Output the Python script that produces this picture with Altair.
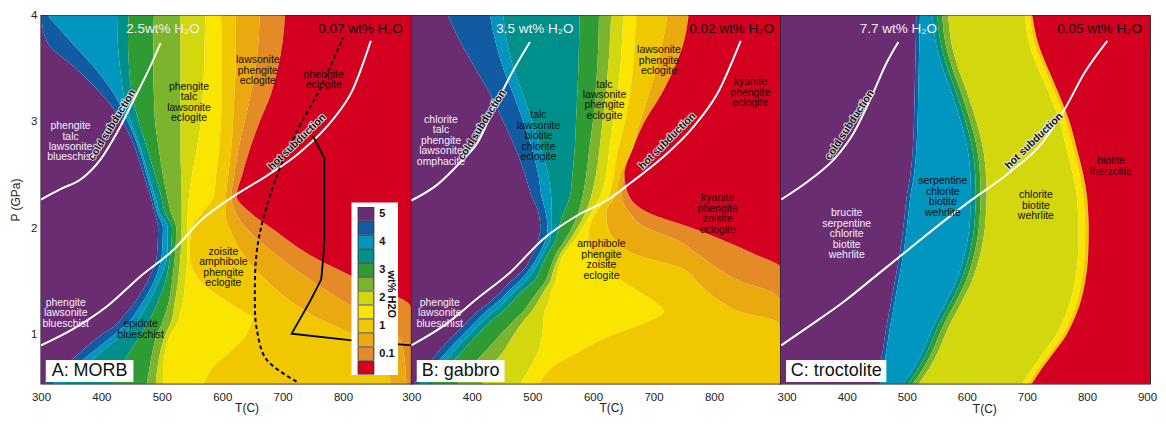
import altair as alt
import pandas as pd

FONT = "Liberation Sans"
P_DOMAIN = [0.54, 4.0]
Y_TICKS = [1, 2, 3, 4]

# water-content classes (wt% H2O), from wettest to driest
BANDS = ["5+", "4.5-5", "4-4.5", "3.5-4", "3-3.5", "2.5-3", "2-2.5",
         "1.5-2", "1-1.5", "0.5-1", "0.1-0.5", "<0.1"]
BAND_COLORS = ["#6a2d72", "#115ba3", "#0096c0", "#00908b", "#2f9b35", "#7db42d",
               "#d2d70e", "#fae501", "#f0c700", "#e9a90f", "#e48a27", "#d3001f"]
LEGEND_TEXT = {"5+": "5", "4-4.5": "4", "3-3.5": "3", "2-2.5": "2", "1-1.5": "1", "0.1-0.5": "0.1"}
LEGEND_TITLE = "wt% H2O"
TONES = {"light": "#f4eff7", "dark": "#111111", "onred": "#2b0008"}

# ---------------- Panel A: MORB ----------------
A_T = [300, 913]
A_X_TICKS = [300, 400, 500, 600, 700, 800]
A_P = [0.54, 0.7, 0.85, 1.0, 1.1, 1.15, 1.25, 1.5, 1.75, 2.0, 2.15, 2.3, 2.5, 2.75, 3.0, 3.25, 3.5, 3.75, 4.0]
A_EDGES = [
    [305, 338, 368, 400, 426, 433, 448, 476, 492, 494, 488, 481, 470, 456, 435, 402, 358, 310, 300],
    [319, 355, 388, 421, 442, 450, 462, 487, 500, 502, 492, 485, 475, 462, 444, 422, 390, 350, 311],
    [338, 371, 402, 435, 454, 462, 473, 495, 509, 510, 496, 489, 478, 465, 449, 437, 431, 427, 426],
    [418, 432, 448, 465, 476, 481, 489, 506, 514, 517, 505, 499, 489, 476, 462, 451, 446, 444, 445],
    [475, 480, 485, 492, 500, 503, 509, 517, 522, 524, 515, 509, 502, 495, 489, 487, 486, 486, 487],
    [490, 493, 498, 506, 514, 517, 520, 527, 531, 533, 533, 533, 532, 531, 531, 531, 531, 531, 531],
    [503, 503, 506, 514, 525, 528, 533, 539, 542, 542, 543, 545, 550, 558, 565, 568, 570, 571, 572],
    [570, 585, 615, 640, 648, 651, 625, 565, 546, 550, 568, 586, 590, 595, 598, 599, 599, 599, 598],
    [880, 870, 850, 815, 780, 760, 730, 675, 635, 612, 605, 606, 610, 615, 618, 620, 622, 622, 622],
    [905, 903, 900, 890, 868, 850, 820, 750, 690, 640, 622, 615, 620, 627, 637, 647, 655, 660, 662],
    [913, 913, 913, 913, 913, 913, 913, 833, 745, 682, 646, 624, 633, 646, 662, 680, 692, 700, 704],
]
A_COLD_T = [300, 333, 366, 399, 426, 454, 481, 498]
A_COLD_P = [2.27, 2.37, 2.46, 2.65, 2.90, 3.21, 3.52, 3.74]
A_HOT_T = [300, 355, 410, 465, 520, 564, 624, 673, 728, 783, 816, 846]
A_HOT_P = [0.90, 1.06, 1.27, 1.55, 1.80, 2.07, 2.32, 2.49, 2.71, 3.02, 3.30, 3.76]
A_DASH_T = [723, 673, 657, 654, 657, 668, 695, 728, 761, 800]
A_DASH_P = [0.56, 0.77, 1.06, 1.37, 1.77, 2.09, 2.56, 2.96, 3.30, 3.79]
A_SOLID_T = [750, 769, 769, 764, 745, 715, 811, 913]
A_SOLID_P = [2.87, 2.66, 1.84, 1.52, 1.31, 1.01, 0.95, 0.90]
A_LABEL_TEXT = ["phengite\ntalc\nlawsonite\nblueschist", "phengite\ntalc\nlawsonite\neclogite",
                "lawsonite\nphengite\neclogite", "phengite\neclogite",
                "zoisite\namphibole\nphengite\neclogite", "phengite\nlawsonite\nblueschist",
                "epidote\nblueschist"]
A_LABEL_T = [349, 545, 659, 768, 602, 341, 465]
A_LABEL_P = [2.96, 3.33, 3.58, 3.44, 1.78, 1.30, 1.10]
A_LABEL_TONE = ["light", "dark", "dark", "onred", "dark", "light", "dark"]
A_WATER_TEXT = ["2.5wt% H₂O", "0.07 wt% H₂O"]
A_WATER_T = [502, 829]
A_SUBD_T = [418, 724]
A_SUBD_P = [2.97, 2.81]
A_SUBD_ANGLE = [301.6, 316]
# legend backdrop and its rotated title, in panel-A data units
A_LEGEND_BOX_T = [814, 891]
A_LEGEND_BOX_P = [0.621, 2.243]
A_LEGEND_TITLE_T = 880
A_LEGEND_TITLE_P = 1.38

# ---------------- Panel B: gabbro ----------------
B_T = [300, 910]
B_X_TICKS = [300, 400, 500, 600, 700, 800]
B_P = [0.54, 0.7, 0.85, 1.0, 1.12, 1.22, 1.3, 1.4, 1.5, 1.63, 1.75, 1.9, 2.0, 2.15, 2.3, 2.5, 2.75, 3.0, 3.25, 3.5, 3.75, 4.0]
B_EDGES = [
    [305, 325, 346, 371, 392, 410, 428, 447, 464, 488, 500, 510, 513, 510, 499, 488, 472, 452, 431, 406, 381, 360],
    [314, 337, 360, 385, 406, 424, 441, 459, 478, 497, 510, 522, 525, 522, 515, 510, 499, 485, 469, 452, 439, 430],
    [322, 348, 371, 396, 417, 437, 452, 469, 488, 505, 517, 529, 532, 532, 531, 526, 514, 500, 485, 469, 458, 452],
    [333, 360, 385, 409, 430, 451, 465, 481, 502, 514, 524, 539, 543, 552, 562, 566, 570, 572, 574, 576, 577, 578],
    [376, 398, 423, 447, 467, 485, 495, 508, 521, 530, 538, 555, 565, 576, 583, 589, 594, 600, 604, 607, 609, 610],
    [417, 431, 453, 469, 484, 499, 508, 518, 529, 536, 545, 563, 574, 588, 597, 605, 611, 616, 621, 625, 628, 630],
    [480, 497, 510, 516, 518, 520, 526, 531, 538, 543, 551, 571, 582, 598, 612, 622, 627, 634, 640, 645, 648, 650],
    [512, 534, 580, 632, 690, 717, 704, 678, 650, 627, 600, 592, 594, 605, 626, 634, 642, 653, 661, 666, 669, 671],
    [910, 910, 910, 910, 905, 840, 815, 790, 772, 745, 672, 635, 625, 622, 636, 645, 665, 678, 692, 705, 715, 723],
    [910, 910, 910, 910, 910, 910, 910, 895, 845, 805, 775, 735, 690, 660, 648, 652, 666, 685, 712, 734, 750, 758],
    [910, 910, 910, 910, 910, 910, 910, 910, 910, 910, 870, 810, 765, 690, 660, 652, 666, 685, 712, 734, 750, 758],
]
B_COLD_T = [300, 343, 381, 409, 436, 469, 496]
B_COLD_P = [2.26, 2.41, 2.62, 2.80, 3.12, 3.49, 3.75]
B_HOT_T = [300, 355, 409, 464, 518, 574, 628, 663, 712, 767, 806, 844]
B_HOT_P = [0.90, 1.09, 1.34, 1.59, 1.90, 2.12, 2.28, 2.43, 2.65, 2.96, 3.27, 3.76]
B_LABEL_TEXT = ["chlorite\ntalc\nphengite\nlawsonite\nomphacite",
                "talc\nlawsonite\nbiotite\nchlorite\neclogite",
                "talc\nlawsonite\nphengite\neclogite", "lawsonite\nphengite\neclogite",
                "kyanite\nphengite\neclogite", "kyanite\nphengite\nzoisite\neclogite",
                "amphibole\nphengite\nzoisite\neclogite", "phengite\nlawsonite\nblueschist"]
B_LABEL_T = [349, 510, 619, 709, 860, 806, 614, 347]
B_LABEL_P = [3.02, 3.06, 3.35, 3.67, 3.37, 2.28, 1.85, 1.30]
B_LABEL_TONE = ["light", "dark", "dark", "dark", "onred", "onred", "dark", "light"]
B_WATER_TEXT = ["3.5 wt% H₂O", "0.02 wt% H₂O"]
B_WATER_T = [504, 829]
B_SUBD_T = [417, 723]
B_SUBD_P = [2.97, 2.82]
B_SUBD_ANGLE = [302, 315]

# ---------------- Panel C: troctolite ----------------
C_T = [290, 905]
C_X_TICKS = [300, 400, 500, 600, 700, 800, 900]
C_P = [0.54, 0.7, 0.85, 1.0, 1.1, 1.25, 1.5, 1.75, 2.0, 2.15, 2.3, 2.5, 2.75, 3.0, 3.25, 3.5, 3.75, 4.0]
C_EDGES = [
    [450, 455, 460, 464, 467, 472, 480, 488, 494, 497, 500, 506, 510, 512, 513, 514, 515, 516],
    [456, 461, 466, 470, 473, 478, 486, 494, 500, 503, 506, 512, 516, 518, 519, 520, 521, 522],
    [494, 513, 527, 538, 546, 560, 582, 596, 604, 606, 607, 606, 601, 590, 576, 560, 548, 543],
    [502, 521, 535, 546, 554, 568, 590, 604, 612, 614, 615, 614, 609, 598, 584, 568, 556, 551],
    [510, 529, 543, 554, 562, 576, 598, 612, 620, 622, 623, 622, 617, 606, 592, 576, 564, 559],
    [520, 539, 553, 564, 572, 586, 608, 622, 630, 632, 633, 632, 627, 616, 602, 586, 574, 569],
    [692, 711, 730, 749, 758, 769, 780, 785, 786, 785, 783, 777, 766, 755, 738, 719, 703, 697],
    [702, 721, 741, 760, 769, 780, 791, 796, 797, 796, 794, 788, 777, 765, 748, 729, 712, 705],
    [708, 727, 747, 766, 775, 786, 797, 802, 803, 802, 800, 794, 783, 771, 754, 735, 718, 709],
    [708, 727, 747, 766, 775, 786, 797, 802, 803, 802, 800, 794, 783, 771, 754, 735, 718, 709],
    [708, 727, 747, 766, 775, 786, 797, 802, 803, 802, 800, 794, 783, 771, 754, 735, 718, 709],
]
C_COLD_T = [291, 340, 384, 412, 444, 466, 486]
C_COLD_P = [2.27, 2.46, 2.68, 2.90, 3.27, 3.55, 3.75]
C_HOT_T = [291, 340, 395, 450, 505, 560, 604, 670, 725, 763, 796, 834]
C_HOT_P = [0.90, 1.09, 1.31, 1.56, 1.81, 2.06, 2.25, 2.52, 2.80, 3.12, 3.46, 3.76]
C_LABEL_TEXT = ["brucite\nserpentine\nchlorite\nbiotite\nwehrlite",
                "serpentine\nchlorite\nbiotite\nwehrlite",
                "chlorite\nbiotite\nwehrlite", "biotite\nlherzolite"]
C_LABEL_T = [400, 560, 715, 840]
C_LABEL_P = [2.14, 2.44, 2.31, 2.63]
C_LABEL_TONE = ["light", "dark", "dark", "onred"]
C_WATER_TEXT = ["7.7 wt% H₂O", "0.05 wt% H₂O"]
C_WATER_T = [486, 821]
C_SUBD_T = [405, 712]
C_SUBD_P = [2.97, 2.82]
C_SUBD_ANGLE = [303, 316]

WATER_P = 3.87
WATER_TONE = ["light", "dark"]
SUBD_TEXT = ["cold subduction", "hot subduction"]
PANEL_NAMES = ["A: MORB", "B: gabbro", "C: troctolite"]
BOX_T0 = [308, 309, 299]
BOX_T1 = [453, 454, 466]
BOX_P0, BOX_P1 = 0.556, 0.762

label_expr = " : ".join(f"datum.label == '{k}' ? '{v}'" for k, v in LEGEND_TEXT.items()) + " : ''"
LEGEND = alt.Legend(
    orient="none", legendX=313, legendY=188, direction="vertical", title=None,
    symbolType="M-1,-0.86L1,-0.86L1,0.86L-1,0.86Z", symbolSize=256, clipHeight=13.75,
    symbolStrokeColor="#333", symbolStrokeWidth=1, symbolOpacity=1,
    labelExpr=label_expr, labelFontSize=11, labelFontWeight="bold", labelColor="#111",
    labelBaseline="middle", labelOffset=5, rowPadding=0, padding=4, labelLimit=40,
)
COLOR = alt.Color("band:N", scale=alt.Scale(domain=BANDS, range=BAND_COLORS), legend=LEGEND)


def band_frame(p_levels, edges, t_dom):
    # band k spans edge k .. edge k+1; the first band is measured from zero so that stacking rebuilds the edges
    full = [[0] * len(p_levels)] + edges + [[t_dom[1]] * len(p_levels)]
    rows = []
    for k, name in enumerate(BANDS):
        for i, p in enumerate(p_levels):
            rows.append({"band": name, "k": k, "P": p, "w": full[k + 1][i] - full[k][i]})
    return pd.DataFrame(rows)


def panel(idx, t_dom, width, ticks, p_levels, edges, cold, hot, lab, water_text, water_t,
          subd, title_x, title_y, show_y, extra_lines=None, legend_box=None):
    xs = alt.Scale(domain=t_dom, nice=False, zero=False)
    ys = alt.Scale(domain=P_DOMAIN, nice=False, zero=False)
    xax = alt.Axis(values=ticks, title="T(C)", ticks=False, domain=False, grid=False,
                   labelFlush=False, labelOverlap=False, labelFontSize=11.5, labelColor="#222",
                   labelPadding=8, titleFontSize=12, titleFontWeight="normal", titleColor="#222",
                   titleX=title_x, titleY=title_y, titleBaseline="middle", titleAlign="center")
    if show_y:
        yax = alt.Axis(values=Y_TICKS, title="P (GPa)", ticks=False, domain=False, grid=False,
                       format="d", labelFontSize=11.5, labelColor="#222", labelPadding=4,
                       titleFontSize=12, titleFontWeight="normal", titleColor="#222",
                       titlePadding=8, labelFlush=False)
    else:
        yax = None

    def X(f):
        return alt.X(f, scale=xs, axis=xax)

    def Y(f):
        return alt.Y(f, scale=ys, axis=yax)

    bands = alt.Chart(band_frame(p_levels, edges, t_dom)).mark_area(
        orient="horizontal", interpolate="monotone", clip=True
    ).encode(
        y=Y("P:Q"), x=alt.X("w:Q", scale=xs, axis=xax, stack="zero"),
        color=COLOR, order=alt.Order("k:Q"),
    )

    geo_rows = []
    for name, (ts, ps) in (("cold", cold), ("hot", hot)):
        for i, (t, p) in enumerate(zip(ts, ps)):
            geo_rows.append({"line": name, "i": i, "T": t, "P": p})
    geo = alt.Chart(pd.DataFrame(geo_rows)).mark_line(
        color="white", strokeWidth=2, interpolate="monotone", clip=True
    ).encode(x=X("T:Q"), y=Y("P:Q"), detail="line:N", order="i:Q")

    layers = [bands, geo]

    if extra_lines is not None:
        (dt, dp), (st, sp) = extra_lines
        dash = alt.Chart(pd.DataFrame({"T": dt, "P": dp, "i": list(range(len(dt)))})).mark_line(
            color="black", strokeWidth=2, strokeDash=[4, 3], interpolate="catmull-rom", clip=True
        ).encode(x=X("T:Q"), y=Y("P:Q"), order="i:Q")
        solid = alt.Chart(pd.DataFrame({"T": st, "P": sp, "i": list(range(len(st)))})).mark_line(
            color="black", strokeWidth=1.8, clip=True
        ).encode(x=X("T:Q"), y=Y("P:Q"), order="i:Q")
        layers += [dash, solid]

    ltxt, lt, lp, ltone = lab
    lab_df = pd.DataFrame({"txt": ltxt, "T": lt, "P": lp, "col": [TONES[t] for t in ltone]})
    labels = alt.Chart(lab_df).mark_text(
        font=FONT, fontSize=10.5, lineHeight=10.5, lineBreak="\n", align="center", baseline="middle"
    ).encode(x=X("T:Q"), y=Y("P:Q"), text="txt:N", color=alt.Color("col:N", scale=None))

    w_df = pd.DataFrame({"txt": water_text, "T": water_t, "P": [WATER_P] * 2,
                         "col": [TONES[t] for t in WATER_TONE]})
    water = alt.Chart(w_df).mark_text(
        font=FONT, fontSize=13.5, align="center", baseline="middle"
    ).encode(x=X("T:Q"), y=Y("P:Q"), text="txt:N", color=alt.Color("col:N", scale=None))

    st_, sp_, sa_ = subd
    s_df = pd.DataFrame({"txt": SUBD_TEXT, "T": st_, "P": sp_, "ang": sa_})
    s_halo = alt.Chart(s_df).mark_text(
        font=FONT, fontSize=10.5, fontWeight="bold", align="center", baseline="middle",
        color="#eeeeee", stroke="#eeeeee", strokeWidth=1.8, opacity=0.9
    ).encode(x=X("T:Q"), y=Y("P:Q"), text="txt:N", angle=alt.Angle("ang:Q", scale=None))
    s_fill = alt.Chart(s_df).mark_text(
        font=FONT, fontSize=10.5, fontWeight="bold", align="center", baseline="middle",
        color="#111111"
    ).encode(x=X("T:Q"), y=Y("P:Q"), text="txt:N", angle=alt.Angle("ang:Q", scale=None))

    b_df = pd.DataFrame({"T0": [BOX_T0[idx]], "T1": [BOX_T1[idx]], "P0": [BOX_P0], "P1": [BOX_P1],
                         "Tm": [(BOX_T0[idx] + BOX_T1[idx]) / 2], "Pm": [(BOX_P0 + BOX_P1) / 2],
                         "txt": [PANEL_NAMES[idx]]})
    box = alt.Chart(b_df).mark_rect(fill="white").encode(
        x=X("T0:Q"), x2="T1:Q", y=Y("P0:Q"), y2="P1:Q")
    box_txt = alt.Chart(b_df).mark_text(
        font=FONT, fontSize=18, align="center", baseline="middle", color="#111"
    ).encode(x=X("Tm:Q"), y=Y("Pm:Q"), text="txt:N")

    layers += [labels, water, s_halo, s_fill, box, box_txt]

    if legend_box is not None:
        (bt, bp), (tt, tp) = legend_box
        lb_df = pd.DataFrame({"T0": [bt[0]], "T1": [bt[1]], "P0": [bp[0]], "P1": [bp[1]],
                              "Tt": [tt], "Pt": [tp], "txt": [LEGEND_TITLE]})
        lbox = alt.Chart(lb_df).mark_rect(fill="white").encode(
            x=X("T0:Q"), x2="T1:Q", y=Y("P0:Q"), y2="P1:Q")
        ltitle = alt.Chart(lb_df).mark_text(
            font=FONT, fontSize=11, fontWeight="bold", angle=90, align="center",
            baseline="middle", color="#111"
        ).encode(x=X("Tt:Q"), y=Y("Pt:Q"), text="txt:N")
        layers += [lbox, ltitle]

    return alt.layer(*layers).properties(width=width, height=369)


pA = panel(0, A_T, 371, A_X_TICKS, A_P, A_EDGES, (A_COLD_T, A_COLD_P), (A_HOT_T, A_HOT_P),
           (A_LABEL_TEXT, A_LABEL_T, A_LABEL_P, A_LABEL_TONE), A_WATER_TEXT, A_WATER_T,
           (A_SUBD_T, A_SUBD_P, A_SUBD_ANGLE), 206, 24, True,
           extra_lines=((A_DASH_T, A_DASH_P), (A_SOLID_T, A_SOLID_P)),
           legend_box=((A_LEGEND_BOX_T, A_LEGEND_BOX_P), (A_LEGEND_TITLE_T, A_LEGEND_TITLE_P)))
pB = panel(1, B_T, 370, B_X_TICKS, B_P, B_EDGES, (B_COLD_T, B_COLD_P), (B_HOT_T, B_HOT_P),
           (B_LABEL_TEXT, B_LABEL_T, B_LABEL_P, B_LABEL_TONE), B_WATER_TEXT, B_WATER_T,
           (B_SUBD_T, B_SUBD_P, B_SUBD_ANGLE), 200, 24, False)
pC = panel(2, C_T, 370, C_X_TICKS, C_P, C_EDGES, (C_COLD_T, C_COLD_P), (C_HOT_T, C_HOT_P),
           (C_LABEL_TEXT, C_LABEL_T, C_LABEL_P, C_LABEL_TONE), C_WATER_TEXT, C_WATER_T,
           (C_SUBD_T, C_SUBD_P, C_SUBD_ANGLE), 204, 25, False)

chart = alt.hconcat(pA, pB, pC, spacing=0, bounds="flush").properties(
    padding={"left": 0, "top": 0, "right": 0, "bottom": 0}
).configure(font=FONT).configure_view(stroke="#111", strokeWidth=1.3)

chart.save("out.html", embed_options={"renderer": "svg", "actions": False})
